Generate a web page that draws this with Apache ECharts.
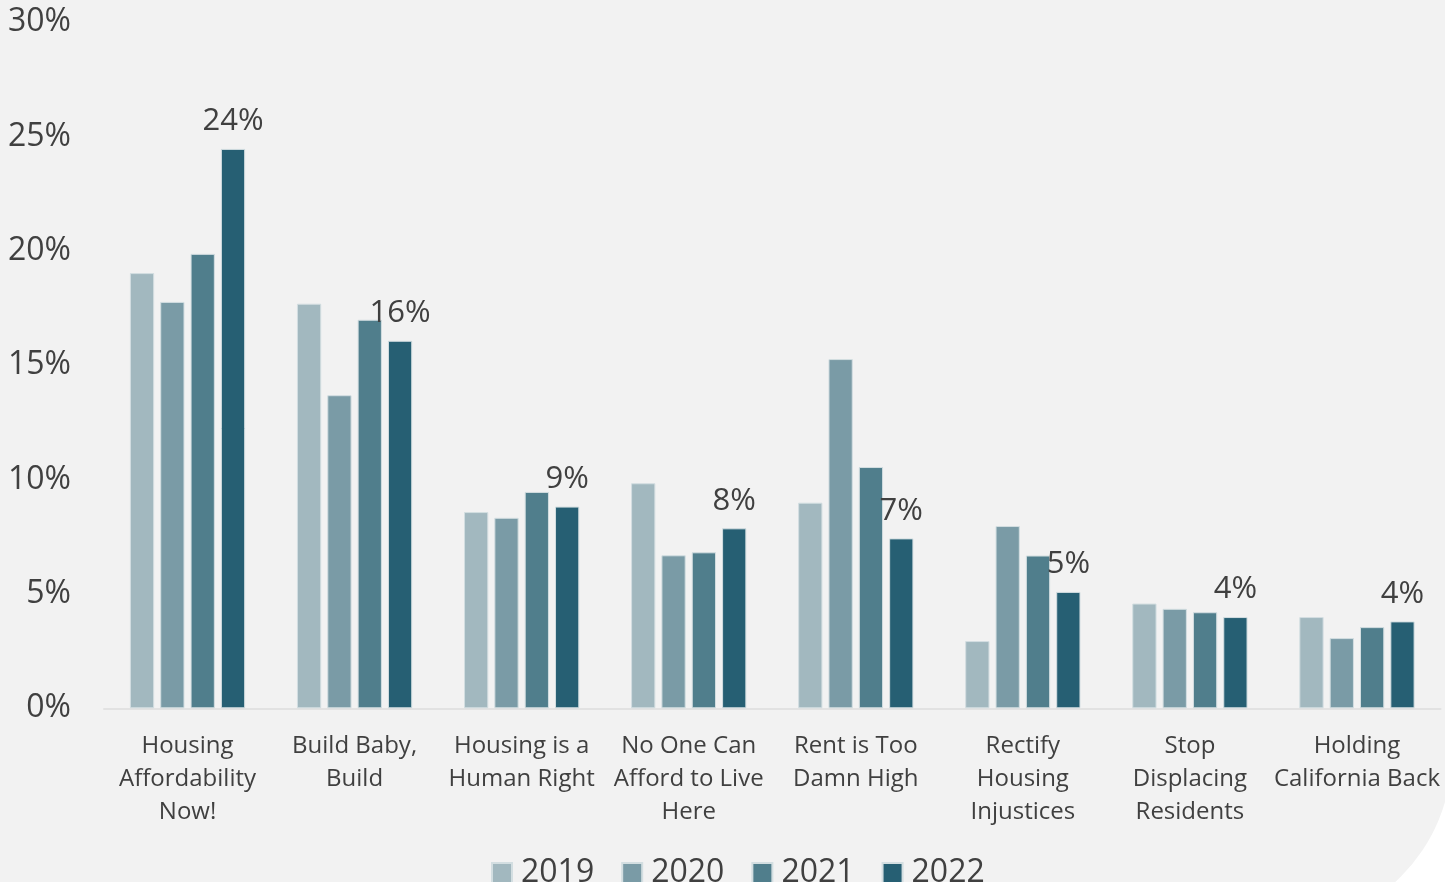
<!DOCTYPE html>
<html>
<head>
<meta charset="utf-8">
<script src="https://cdn.jsdelivr.net/npm/echarts@6/dist/echarts.min.js"></script>
<style>
  html, body { margin: 0; padding: 0; background: #ffffff; }
  #chart { width: 1445px; height: 882px; }
</style>
</head>
<body>
<div id="chart"></div>
<script>
// Categories (slogans) shown along the x axis
const categories = [
  'Housing\nAffordability\nNow!',
  'Build Baby,\nBuild',
  'Housing is a\nHuman Right',
  'No One Can\nAfford to Live\nHere',
  'Rent is Too\nDamn High',
  'Rectify\nHousing\nInjustices',
  'Stop\nDisplacing\nResidents',
  'Holding\nCalifornia Back'
];

// Share of mentions per year, in percent
const years = ['2019', '2020', '2021', '2022'];
const values2019 = [19.03, 17.69, 8.58, 9.84, 8.99, 2.94, 4.58, 3.99];
const values2020 = [17.77, 13.69, 8.33, 6.69, 15.27, 7.97, 4.35, 3.07];
const values2021 = [19.87, 16.99, 9.46, 6.82, 10.55, 6.68, 4.20, 3.55];
const values2022 = [24.46, 16.07, 8.82, 7.87, 7.43, 5.09, 3.99, 3.80];

const yearColors = ['#a2b8bf', '#7a9ba6', '#507e8c', '#265f73'];
const yTicks = { min: 0, max: 30, step: 5 };

const textColor = '#404040';
const fontFamily = '"Open Sans", "Noto Sans", sans-serif';

const seriesValues = [values2019, values2020, values2021, values2022];

const series = seriesValues.map((vals, i) => ({
  name: years[i],
  type: 'bar',
  data: vals,
  barGap: '25%',
  barCategoryGap: '31%',
  itemStyle: {
    color: yearColors[i],
    borderColor: '#d3dee1',
    borderWidth: 1
  },
  label: i === seriesValues.length - 1 ? {
    show: true,
    position: 'top',
    distance: 12,
    color: textColor,
    fontFamily: fontFamily,
    fontSize: 31,
    formatter: p => Math.round(p.value) + '%'
  } : { show: false }
}));

const chart = echarts.init(document.getElementById('chart'), null, { renderer: 'canvas' });

chart.setOption({
  backgroundColor: 'transparent',
  animation: false,
  textStyle: { fontFamily: fontFamily },
  // light panel with a rounded lower-right corner
  graphic: [{
    type: 'rect',
    z: -10,
    silent: true,
    shape: { x: -10, y: -10, width: 1462, height: 938, r: [0, 0, 175, 0] },
    style: { fill: '#f2f2f2' }
  }],
  grid: {
    left: 104,
    right: 4.5,
    top: 22.2,
    bottom: 173.7,
    containLabel: false
  },
  legend: {
    data: years,
    left: 491,
    top: 857,
    padding: 0,
    icon: 'rect',
    itemWidth: 20,
    itemHeight: 20,
    itemGap: 27,
    textStyle: {
      color: textColor,
      fontFamily: fontFamily,
      fontSize: 32,
      padding: [0, 0, 0, 4]
    }
  },
  xAxis: {
    type: 'category',
    data: categories,
    axisLine: { show: true, lineStyle: { color: '#e2e2e2', width: 2 } },
    axisTick: { show: false },
    axisLabel: {
      interval: 0,
      margin: 21,
      color: textColor,
      fontFamily: fontFamily,
      fontSize: 24,
      lineHeight: 33
    }
  },
  yAxis: {
    type: 'value',
    min: yTicks.min,
    max: yTicks.max,
    interval: yTicks.step,
    axisLine: { show: false },
    axisTick: { show: false },
    splitLine: { show: false },
    axisLabel: {
      margin: 33,
      color: textColor,
      fontFamily: fontFamily,
      fontSize: 32,
      lineHeight: 32,
      padding: [6, 0, 0, 0],
      formatter: '{value}%'
    }
  },
  series: series
});
</script>
</body>
</html>
